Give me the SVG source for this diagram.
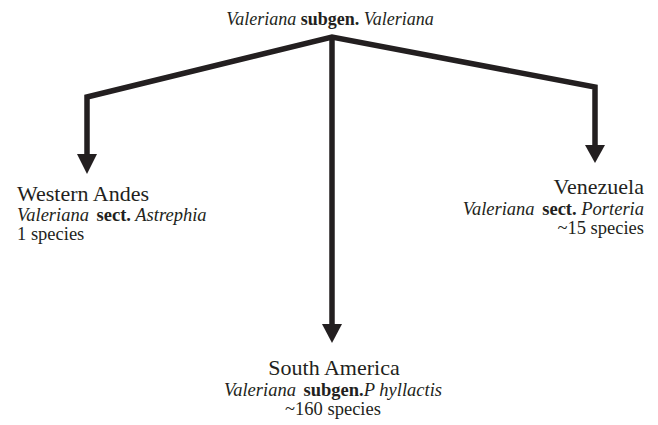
<svg xmlns="http://www.w3.org/2000/svg" width="658" height="425" viewBox="0 0 658 425">
<style>
text{font-family:"Liberation Serif","Times New Roman",serif;fill:#231f20}
.h{font-size:22px}
.s{font-size:18.5px}
.t{font-size:18px}
.i{font-style:italic}
.b{font-weight:bold}
.ln{fill:none;stroke:#231f20;stroke-width:5.5;stroke-linejoin:miter}
.hd{fill:#231f20}
</style>
<rect width="658" height="425" fill="#ffffff"/>
<g id="connectors">
<path class="ln" d="M87,156 L87,97 L332,37 L595,87 L595,146"/>
<path class="ln" d="M332,37 L332,326"/>
<polygon class="hd" points="77,154 97,154 87,174"/>
<polygon class="hd" points="585,145 605,145 595,163"/>
<polygon class="hd" points="322,324 342,324 332,343"/>
</g>
<g id="root">
<text class="t" x="330" y="25" text-anchor="middle"><tspan class="i">Valeriana</tspan><tspan class="b"> subgen.</tspan><tspan class="i"> Valeriana</tspan></text>
</g>
<g id="western-andes">
<text class="h" x="17" y="201">Western Andes</text>
<text class="s" x="17" y="221"><tspan class="i">Valeriana</tspan><tspan class="b" dx="3"> sect.</tspan><tspan class="i"> Astrephia</tspan></text>
<text class="s" x="17" y="240">1 species</text>
</g>
<g id="venezuela">
<text class="h" x="644" y="194" text-anchor="end">Venezuela</text>
<text class="s" x="644" y="215" text-anchor="end"><tspan class="i">Valeriana</tspan><tspan class="b" dx="3"> sect.</tspan><tspan class="i"> Porteria</tspan></text>
<text class="s" x="644" y="234" text-anchor="end">~15 species</text>
</g>
<g id="south-america">
<text class="h" x="334" y="375" text-anchor="middle">South America</text>
<text class="s" x="333" y="396" text-anchor="middle"><tspan class="i">Valeriana</tspan><tspan class="b" dx="3"> subgen.</tspan><tspan class="i">P hyllactis</tspan></text>
<text class="s" x="333" y="415" text-anchor="middle">~160 species</text>
</g>
</svg>
